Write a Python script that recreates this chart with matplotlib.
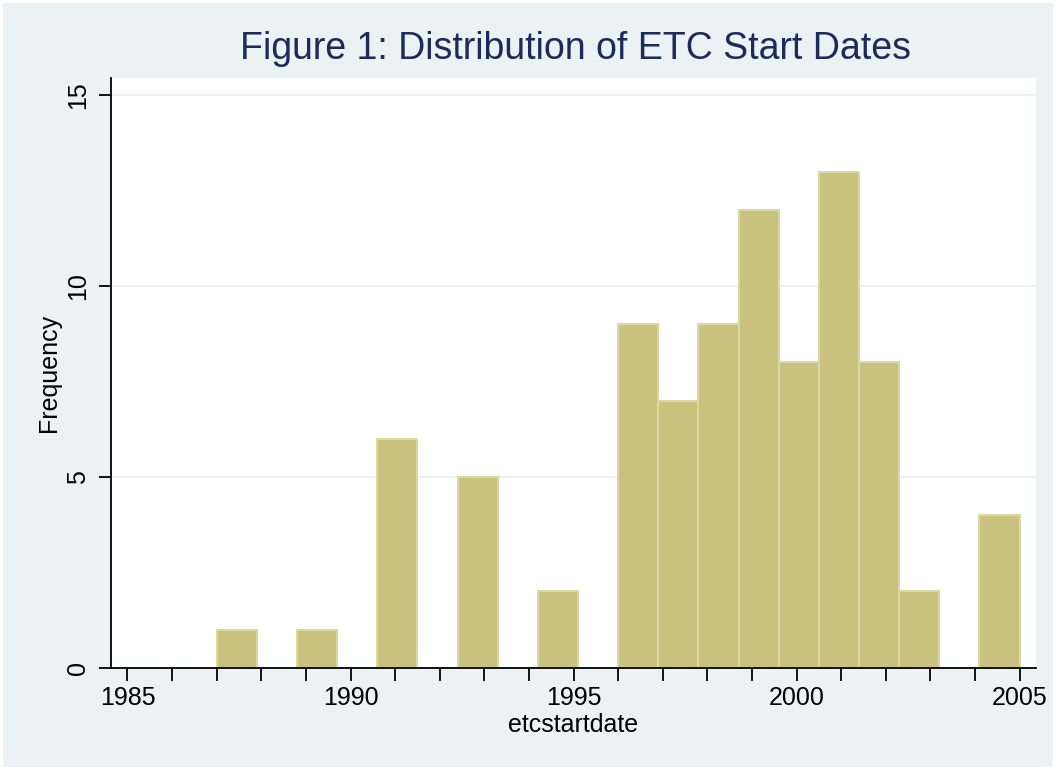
import matplotlib.pyplot as plt
import numpy as np
from matplotlib.patches import Rectangle

plt.rcParams['font.family'] = ['Liberation Sans', 'DejaVu Sans']

# histogram bins: 20 bins of width 0.9 starting at 1987
bin_start = 1987.0
bin_width = 0.9
counts = [1, 0, 1, 0, 6, 0, 5, 0, 2, 0, 9, 7, 9, 12, 8, 13, 8, 2, 0, 4]
x_ticks = [1985, 1990, 1995, 2000, 2005]
x_minor = list(range(1985, 2006))
y_ticks = [0, 5, 10, 15]

title = "Figure 1: Distribution of ETC Start Dates"
xlabel = "etcstartdate"
ylabel = "Frequency"

bg = "#EAF2F3"
fig = plt.figure(figsize=(10.56, 7.70), dpi=100, facecolor="white")
fig.patches.append(Rectangle((0.003, 0.004), 0.994, 0.992, transform=fig.transFigure,
                             facecolor=bg, edgecolor="none", zorder=-10))
ax = fig.add_axes([0.1051, 0.1328, 0.9811 - 0.1051, 0.8987 - 0.1328])

edges = bin_start + bin_width * np.arange(len(counts))
ax.bar(edges, counts, width=bin_width, align="edge", color="#C9C27F",
       edgecolor="#DCD7A3", linewidth=1.5, zorder=3)

ax.set_xlim(1984.63, 2005.37)
ax.set_ylim(0, 15.45)

for yv in y_ticks[1:]:
    ax.axhline(yv, color=bg, linewidth=1.5, zorder=1)

ax.set_xticks(x_ticks)
ax.set_xticks(x_minor, minor=True)
ax.set_yticks(y_ticks)
ax.set_yticklabels([str(v) for v in y_ticks], rotation=90, va="center")
ax.tick_params(axis="both", which="major", length=9, width=1.3, labelsize=18,
               direction="out", color="black")
ax.tick_params(axis="x", which="minor", length=9, width=1.3, direction="out")
ax.tick_params(axis="x", pad=4)
ax.tick_params(axis="y", pad=6)

for side in ["top", "right"]:
    ax.spines[side].set_visible(False)
for side in ["left", "bottom"]:
    ax.spines[side].set_linewidth(1.3)
    ax.spines[side].set_zorder(5)

ax.set_xlabel(xlabel, fontsize=18, labelpad=2)
ax.set_ylabel(ylabel, fontsize=18, labelpad=4)
fig.text(0.545, 0.937, title, fontsize=27, color="#1C2B5A", ha="center", va="center")

fig.savefig("out.png", dpi=100, facecolor="white")
